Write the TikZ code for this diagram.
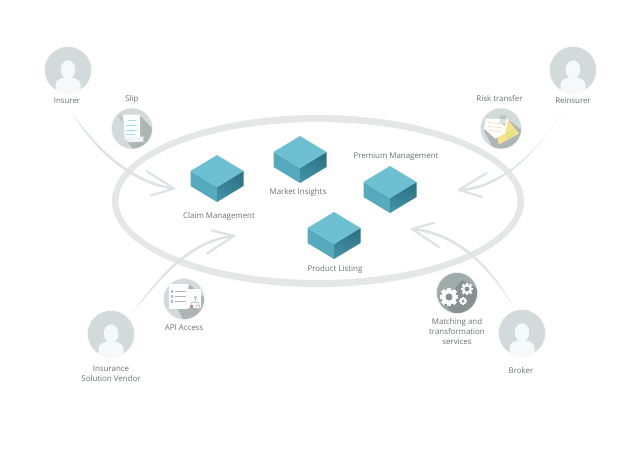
\documentclass[tikz,border=0pt]{standalone}
\usepackage{fontspec}
\setmainfont{Open Sans}
\usetikzlibrary{calc}
\definecolor{circ}{HTML}{D3DADB}
\definecolor{lite}{HTML}{F5F9FA}
\definecolor{ring}{HTML}{E3E8E7}
\definecolor{arr}{HTML}{DCE3E3}
\definecolor{ctop}{HTML}{6CC0D2}
\definecolor{cleft}{HTML}{55AABD}
\definecolor{cright}{HTML}{36859A}
\definecolor{txt}{HTML}{6C7175}
\definecolor{icbg}{HTML}{D3DADB}
\definecolor{icsh}{HTML}{ACB6B7}
\definecolor{gearbg}{HTML}{A0ABAC}
\definecolor{noteY}{HTML}{F8E38C}
\definecolor{blueln}{HTML}{A5D8F0}
\tikzset{x=1pt,y=-1pt,
 lab/.style={text=txt,font=\fontsize{7.9}{10}\selectfont,align=center,inner sep=0pt},
 personc/.style={circle,fill=circ,draw=white!85!circ,line width=.5pt,minimum size=47pt,inner sep=0pt},
 iconc/.style={circle,fill=icbg,draw=white!70!icbg,line width=.6pt,minimum size=41pt,inner sep=0pt},
 flow/.style={fill=arr,draw=none},
 head/.style={draw=arr,line width=2.2pt,line cap=round,line join=round},
}
\newcommand{\cube}[3]{% name, x, y of apex
 \coordinate (#1) at (#2,#3);
 \fill[cleft] (#2-26.5,#3+16)--(#2,#3+32)--(#2,#3+47)--(#2-26.5,#3+31)--cycle;
 \shade[bottom color=cright!80!ctop,top color=cright!85!black,shading angle=-20] (#2+26.5,#3+16)--(#2,#3+32)--(#2,#3+47)--(#2+26.5,#3+31)--cycle;
 \fill[ctop] (#2,#3)--(#2+26.5,#3+16)--(#2,#3+32)--(#2-26.5,#3+16)--cycle;
}
\newcommand{\person}[3]{%
 \node[personc] (#1) at (#2,#3) {};
 \begin{scope}[shift={(#2,#3)}]
  \clip (0,0) circle (23.4);
  \fill[lite] (0,-0.5) ellipse (7.3 and 9.2);
  \fill[lite] (-12.5,25)--(-12.5,15) .. controls (-12.5,10) and (-7,8) .. (-4,7.5) -- (4,7.5) .. controls (7,8) and (12.5,10) .. (12.5,15) -- (12.5,25) -- cycle;
 \end{scope}
}
\newcommand{\gear}[4]{% x y r hole
 \begin{scope}[shift={(#1,#2)}]
  \foreach \a in {0,45,...,315}{\fill[white!94!gearbg,rotate=\a] (-#3*.26,-#3*1.25) rectangle (#3*.26,0);}
  \fill[white!94!gearbg] (0,0) circle (#3);
  \fill[gearbg!85!black] (0,0) circle (#4);
 \end{scope}
}
\begin{document}
\begin{tikzpicture}
\useasboundingbox (0,0) rectangle (640,461);
\fill[white] (0,0) rectangle (640,461);
% ring
\fill[ring,even odd rule] (318,201) ellipse (206 and 86) (318,201) ellipse (199.5 and 79);
% cubes
\cube{cubeclaim}{217}{155}
\cube{cubemarket}{300}{136}
\cube{cubepremium}{390}{166}
\cube{cubeproduct}{334}{212}
\node[lab] (lclaim) at (219,216.5) {Claim Management};
\node[lab] (lmarket) at (298,192) {Market Insights};
\node[lab] (lpremium) at (396,157) {Premium Management};
\node[lab] (lproduct) at (335,269) {Product Listing};
% persons
\person{insurer}{68}{70}
\person{reinsurer}{573}{70}
\person{vendor}{111}{334}
\person{broker}{522}{333}
\node[lab] (linsurer) at (67,101) {Insurer};
\node[lab] (lreinsurer) at (573,101) {Reinsurer};
\node[lab] (lvendor) at (111,373.5) {Insurance\\Solution Vendor};
\node[lab] (lbroker) at (521,371) {Broker};
% icons
\node[iconc] (slip) at (132,128.5) {};
\node[iconc] (risk) at (501,128.5) {};
\node[iconc] (api) at (184,299) {};
\node[iconc,fill=gearbg] (gears) at (457,293) {};
\node[lab] (lslip) at (132,99) {Slip};
\node[lab] (lrisk) at (499.5,99) {Risk transfer};
\node[lab] (lapi) at (184,327.5) {API Access};
\node[lab] (lgears) at (457,332) {Matching and\\transformation\\services};
% slip icon
\begin{scope}[shift={(132,128.5)}]
 \begin{scope}\clip (0,0) circle (20);
  \fill[icsh] (8,-13)--(25,5)--(25,25)--(5,25)--(-4,14)--cycle;\end{scope}
 \fill[icsh!80!white] (-15,-13)--(-9,-13)--(-8,-5)--cycle;
 \fill[white!95!circ] (-9,-14)--(8,-14)--(8,9)--(-7,11)--cycle;
 \fill[lite!85!circ] (-6,8)--(12,8) .. controls (10,10) and (11,12) .. (12,13) -- (-3,14) .. controls (-5,12) and (-5,10) .. (-6,8) -- cycle;
 \foreach \yy/\xa/\xb in {-8/-4/4,-3/-6/5,2/-6/5,6/-6/3}{\draw[color=blueln,line width=.8pt] (\xa,\yy)--(\xb,\yy);}
\end{scope}
% risk icon
\begin{scope}[shift={(501,128.5)}]
 \begin{scope}\clip (0,0) circle (20);
  \fill[icsh] (-17,2)--(8,-8)--(25,5)--(25,25)--(-5,25)--cycle;\end{scope}
 \fill[noteY] (6,-10)--(18,5)--(-2,16)--(-4,8)--cycle;
 \draw[color=green!35!noteY,line width=.5pt] (4,7)--(13,1) (5,10)--(14,4);
 \fill[white] (-15,-10)--(7,-9)--(4,5)--(-6,10)--(-17,0)--cycle;
 \foreach \yy in {-6,-2,2}{\draw[color=orange!30!white,line width=.7pt] (-13,\yy)--(0,\yy+1);}
 \draw[gray!65,line width=.7pt] (0,-5)--(0,-13) arc (180:0:2) -- (4,-4) -- (2,-4) -- (2,-12);
\end{scope}
% api icon
\begin{scope}[shift={(184,299)}]
 \begin{scope}\clip (0,0) circle (20);
  \fill[icsh] (6,-14)--(25,3)--(25,25)--(2,25)--(-6,11)--cycle;\end{scope}
 \fill[white!92!circ] (3,-10)--(17,-10)--(17,9)--(3,9)--cycle;
 \fill[white] (-15,-15)--(4,-15)--(4,10)--(-15,10)--cycle;
 \foreach \yy in {-8,-3,2}{\fill[cyan!50!blue!35!white] (-13.5,\yy-1.5) rectangle (-11,\yy+1.5);
  \draw[gray!60,line width=.6pt] (-9,\yy)--(2,\yy);}
 \fill[icsh!60!white] (9.5,-3.5) rectangle (12.5,-.5);
 \draw[gray!40,line width=.4pt] (11,-.5)--(11,3) (7,6)--(7,3)--(14,3)--(14,6);
 \fill[red!35!gray!70] (5.5,6) rectangle (8.5,9);
 \draw[gray!40,line width=.4pt] (12.5,6) rectangle (15.5,9);
\end{scope}
% gear icon
\begin{scope}\clip (457,293) circle (20);
 \fill[gearbg!85!black] (443,303)--(462,280)--(480,290)--(480,315)--(455,315)--cycle;
\end{scope}
\gear{449}{297}{7.5}{3.5}
\gear{467}{289}{5}{2.4}
\gear{463}{301}{3}{1.5}
% connectors
\coordinate (a1) at (71,111);
\coordinate (a2) at (174,188.5);
\fill[flow] (a1) .. controls (92,142) and (128,181) .. ($(a2)+(0,-1.2)$) -- ($(a2)+(0,1.2)$) .. controls (127,184) and (90,144) .. cycle;
\draw[head] (146.5,171) -- (a2) -- (151,195.5);
\coordinate (b1) at (561,113);
\coordinate (b2) at (459,190);
\fill[flow] (b1) .. controls (541,149) and (500,187) .. ($(b2)+(0,-1.2)$) -- ($(b2)+(0,1.2)$) .. controls (501,190) and (539,151) .. cycle;
\draw[head] (486.5,173) -- (b2) -- (482,197);
\coordinate (c1) at (132,313);
\coordinate (c2) at (234,236);
\fill[flow] (c1) .. controls (161,274) and (190,239) .. ($(c2)+(0,-1.2)$) -- ($(c2)+(0,1.2)$) .. controls (191,242) and (163,276) .. cycle;
\draw[head] (212,230.5) -- (c2) -- (207,253.5);
\coordinate (d1) at (513,307);
\coordinate (d2) at (412,229);
\fill[flow] (d1) .. controls (491,264) and (455,231) .. ($(d2)+(0,-1.2)$) -- ($(d2)+(0,1.2)$) .. controls (454,234) and (489,266) .. cycle;
\draw[head] (434,223) -- (d2) -- (439,247);
\end{tikzpicture}
\end{document}
